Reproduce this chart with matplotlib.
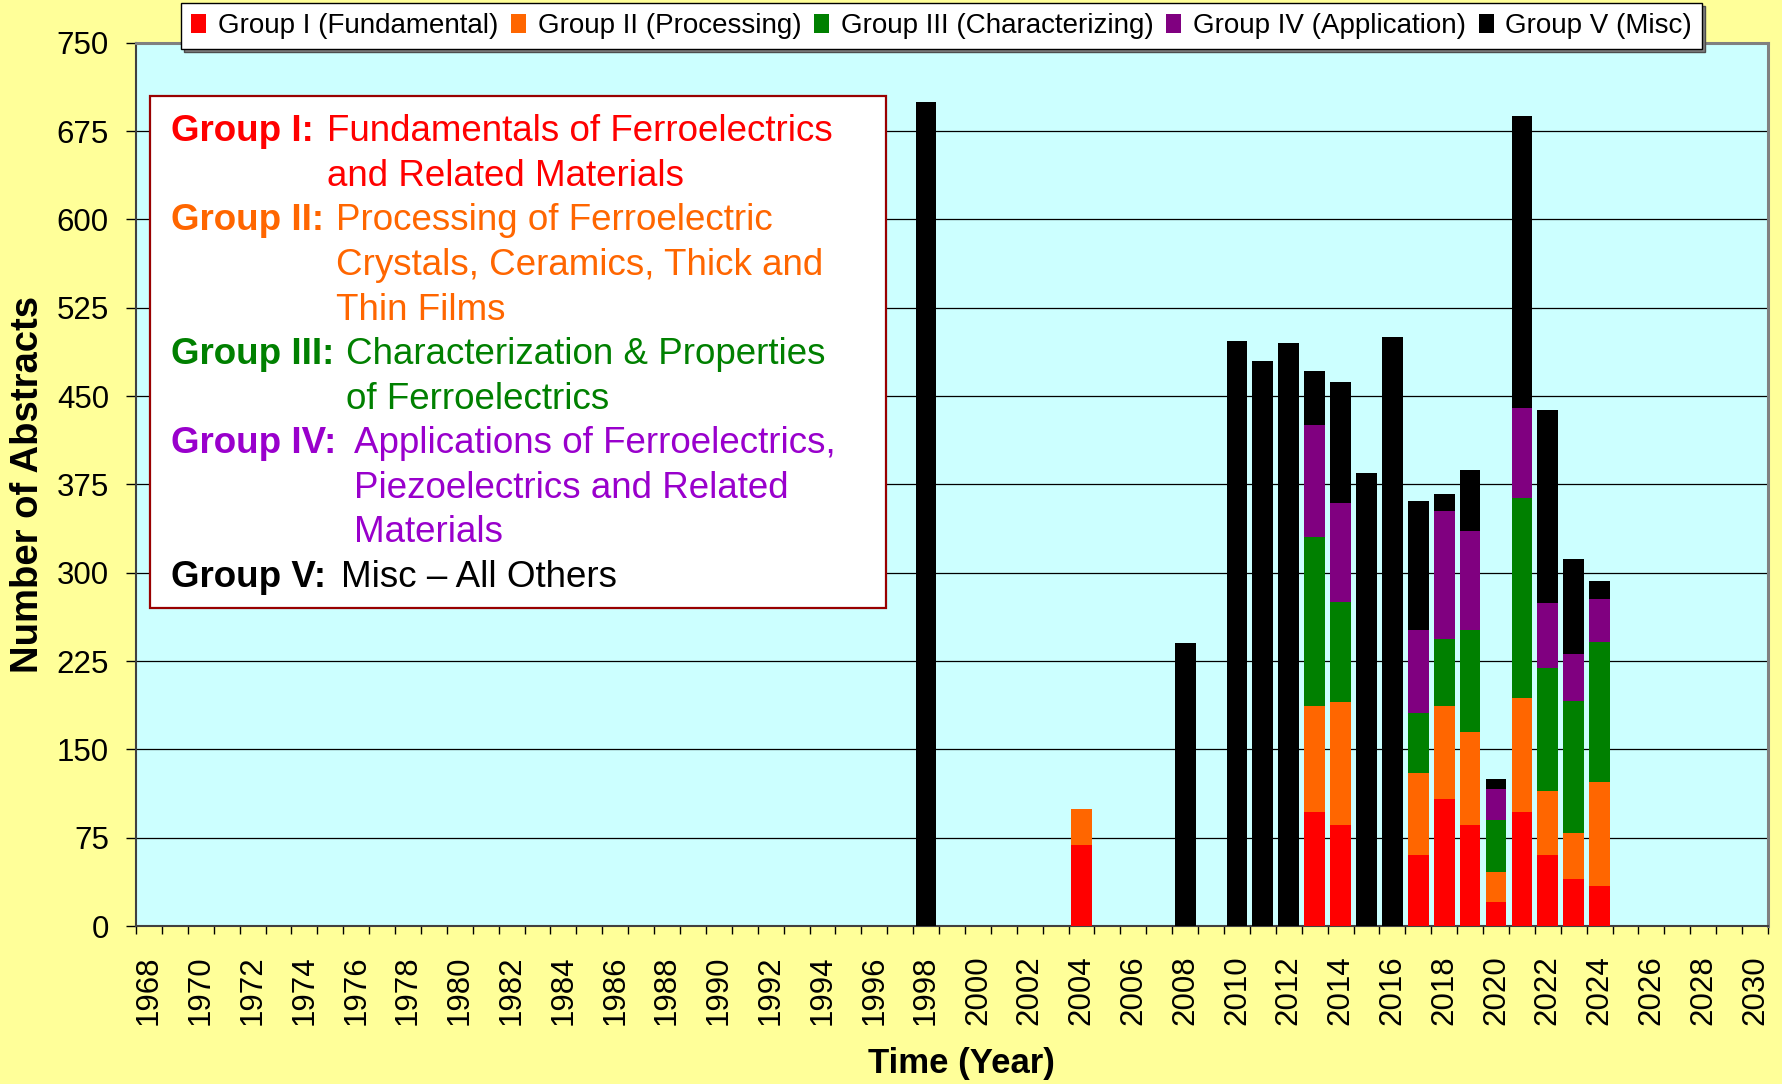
import matplotlib
matplotlib.use("Agg")
import matplotlib.pyplot as plt
from matplotlib.patches import Rectangle
import numpy as np

plt.rcParams['font.family'] = ['Liberation Sans', 'DejaVu Sans']

# Category axis: one slot per year
first_year, last_year = 1968, 2030
tick_years = list(range(1968, 2031, 2))

# Years that have abstracts, and counts per group (stacked bottom to top)
data_years = [1998, 2004, 2008, 2010, 2011, 2012, 2013, 2014, 2015,
              2016, 2017, 2018, 2019, 2020, 2021, 2022, 2023, 2024]
group1 = [0, 69, 0, 0, 0, 0, 97, 86, 0, 0, 60, 108, 86, 20, 97, 60, 40, 34]
group2 = [0, 30, 0, 0, 0, 0, 90, 104, 0, 0, 70, 79, 79, 26, 97, 55, 39, 88]
group3 = [0, 0, 0, 0, 0, 0, 143, 85, 0, 0, 51, 57, 86, 44, 169, 104, 112, 119]
group4 = [0, 0, 0, 0, 0, 0, 95, 84, 0, 0, 70, 108, 84, 26, 77, 55, 40, 37]
group5 = [700, 0, 240, 497, 480, 495, 46, 103, 385, 500, 110, 15, 52, 9, 248, 164, 81, 15]

series_names = ["Group I (Fundamental)", "Group II (Processing)",
                "Group III (Characterizing)", "Group IV (Application)",
                "Group V (Misc)"]
series_colors = ["#FF0000", "#FF6600", "#008000", "#800080", "#000000"]

W, H = 1783, 1084
fig = plt.figure(figsize=(W / 100, H / 100), dpi=100, facecolor="#FFFF99")

left, right, top, bottom = 136, 1768, 42.7, 926
ax = fig.add_axes([left / W, 1 - bottom / H, (right - left) / W, (bottom - top) / H])
ax.set_facecolor("#CCFFFF")

x = np.array(data_years) - first_year
base = np.zeros(len(data_years))
handles = []
for vals, name, col in zip([group1, group2, group3, group4, group5],
                           series_names, series_colors):
    vals = np.array(vals, dtype=float)
    ax.bar(x, vals, width=0.8, bottom=base, color=col, linewidth=0, zorder=3)
    base += vals
    handles.append(Rectangle((0, 0), 1, 1, facecolor=col, edgecolor="none", label=name))

# Axes limits, grid and ticks
ax.set_xlim(-0.5, last_year - first_year + 0.5)
ax.set_ylim(0, 750)
ax.set_yticks(np.arange(0, 751, 75))
ax.yaxis.grid(True, color="black", linewidth=0.9, zorder=1)
ax.set_axisbelow(True)
ax.tick_params(axis="y", direction="out", length=7.5, width=1, pad=12, labelsize=22.5)

ax.set_xticks([y - first_year for y in tick_years])
ax.set_xticklabels([str(y) for y in tick_years], rotation=90)
ax.set_xticks(np.arange(-0.5, last_year - first_year + 1), minor=True)
ax.tick_params(axis="x", which="major", length=0, pad=21, labelsize=22.5)
ax.tick_params(axis="x", which="minor", direction="out", length=6, width=1)

for side in ("top", "right"):
    ax.spines[side].set_color("#808080")
    ax.spines[side].set_linewidth(2.2)
for side in ("left", "bottom"):
    ax.spines[side].set_color("#404040")
    ax.spines[side].set_linewidth(1.5)

ax.set_xlabel("Time (Year)", fontsize=25, fontweight="bold")
ax.xaxis.set_label_coords((961 - left) / (right - left), (bottom - 1063) / (bottom - top))
ax.xaxis.label.set_va("center")
ax.set_ylabel("Number of Abstracts", fontsize=27.5, fontweight="bold")
ax.yaxis.set_label_coords((28 - left) / (right - left), 0.5)
ax.yaxis.label.set_va("center")

# Legend across the top
leg = fig.legend(handles=handles, loc="upper left",
                 bbox_to_anchor=(181 / W, 1 - 3 / H), ncol=5, fontsize=20,
                 frameon=True, fancybox=False, edgecolor="black",
                 handlelength=0.55, handleheight=0.65, handletextpad=0.42,
                 columnspacing=0.45, borderpad=0.36, borderaxespad=0,
                 shadow={"facecolor": "#808080", "alpha": 1})
leg.get_frame().set_linewidth(1.0)


# Description box of the group definitions
def px(xp, yp):
    return xp / W, 1 - yp / H


bx0, by0, bx1, by1 = 149.7, 95.5, 886.5, 607.5
fig.patches.append(Rectangle(px(bx0, by1), (bx1 - bx0) / W, (by1 - by0) / H,
                             transform=fig.transFigure, facecolor="white",
                             edgecolor="#990000", linewidth=1.6, zorder=2))

desc = [
    ("Group I:", "#FF0000", 326.6, ["Fundamentals of Ferroelectrics",
                                    "and Related Materials"]),
    ("Group II:", "#FF6600", 336.0, ["Processing of Ferroelectric",
                                     "Crystals, Ceramics, Thick and",
                                     "Thin Films"]),
    ("Group III:", "#008000", 346.0, ["Characterization & Properties",
                                      "of Ferroelectrics"]),
    ("Group IV:", "#9900CC", 354.0, ["Applications of Ferroelectrics,",
                                     "Piezoelectrics and Related",
                                     "Materials"]),
    ("Group V:", "#000000", 341.0, ["Misc \u2013 All Others"]),
]
line_y0, line_step = 141.3, 44.56
row = 0
for head, col, xcont, lines in desc:
    fig.text(*px(171.5, line_y0 + row * line_step), head, color=col,
             fontsize=26.5, fontweight="bold", va="baseline", ha="left", zorder=4)
    for ln in lines:
        fig.text(*px(xcont, line_y0 + row * line_step), ln, color=col,
                 fontsize=26.5, va="baseline", ha="left", zorder=4)
        row += 1

fig.savefig("out.png", dpi=100, facecolor=fig.get_facecolor())
